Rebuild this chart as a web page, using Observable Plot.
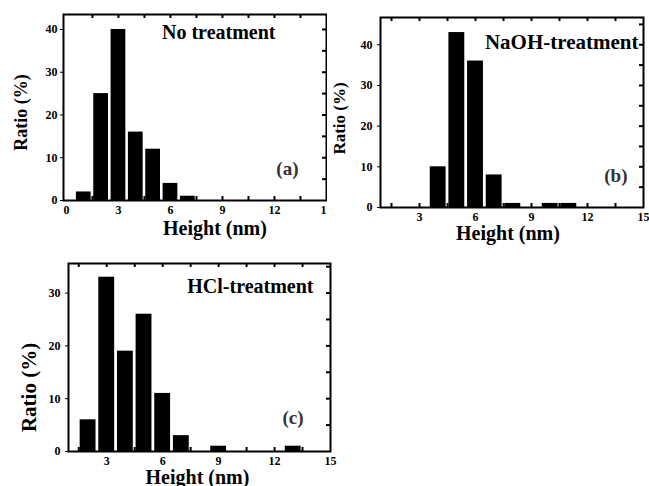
<!DOCTYPE html>
<html><head><meta charset="utf-8">
<script src="https://cdn.jsdelivr.net/npm/d3@7"></script>
<script src="https://cdn.jsdelivr.net/npm/@observablehq/plot@0.6"></script>
<style>
html,body{margin:0;padding:0;background:#fff;}
#root{position:relative;width:649px;height:486px;overflow:hidden;}
.panel{position:absolute;overflow:hidden;}
.panel svg, .panel svg text{font-family:"Liberation Serif","Times New Roman",serif !important;font-weight:bold;}
</style></head><body><div id="root"></div>
<script>
// ---- data ----
const heights = [1,2,3,4,5,6,7,8,9,10,11,12,13,14];
const ratioA = [2,25,40,16,12,4,1,0,0,0,0,0,0,0];
const ratioB = [0,0,0,10,43,36,8,1,0,1,1,0,0,0];
const ratioC = [0,6,33,19,26,11,3,0,1,0,0,0,1,0];

const xTicksA = [0,3,6,9,12,15];
const xTicksBC = [3,6,9,12,15];
const yTicksA = [0,10,20,30,40];
const yTicksB = [0,10,20,30,40];
const yTicksC = [0,10,20,30];
const xMinor = [1.5,3,4.5,6,7.5,9,10.5,12,13.5];
const yMinorA = [5,10,15,20,25,30,35,40];
const yMinorB = [5,10,15,20,25,30,35,40,45];
const yMinorC = [5,10,15,20,25,30,35];

const titles = ["No treatment","NaOH-treatment","HCl-treatment"];
const panelTags = ["(a)","(b)","(c)"];
const xLabel = "Height (nm)";
const yLabel = "Ratio (%)";

const FONT = '"Liberation Serif","Times New Roman",serif';
const root = document.getElementById("root");

function panel(cfg){
  const rows = heights.map((h,i)=>({h, r: cfg.ratio[i]}));
  const [x0,x1] = cfg.xDomain, [y0,y1] = cfg.yDomain;
  const fw = cfg.width - cfg.ml - cfg.mr, fh = cfg.height - cfg.mt - cfg.mb;
  const tx = 4*(x1-x0)/fw, ty = 4*(y1-y0)/fh;
  const bw = 0.85;
  const chart = Plot.plot({
    width: cfg.width, height: cfg.height,
    marginLeft: cfg.ml, marginRight: cfg.mr, marginTop: cfg.mt, marginBottom: cfg.mb,
    style: {fontFamily: FONT, fontSize: "12px", fontWeight: "bold", color: "black", background: "transparent", overflow: "hidden"},
    x: {domain: cfg.xDomain, ticks: cfg.xTicks, tickSize: 0, tickPadding: cfg.xPad, label: null},
    y: {domain: cfg.yDomain, ticks: cfg.yTicks, tickSize: 3, tickPadding: cfg.yPad, label: null},
    marks: [
      Plot.rectY(rows, {x1: d=>d.h-bw/2, x2: d=>d.h+bw/2, y1: 0, y2: "r", fill: "black"}),
      Plot.ruleX(xMinor, {y1: y0, y2: y0+ty, stroke: "black", strokeWidth: 2}),
      Plot.ruleX(xMinor, {y1: y1-ty, y2: y1, stroke: "black", strokeWidth: 2}),
      Plot.ruleY(cfg.yMinor, {x1: x1-tx, x2: x1, stroke: "black", strokeWidth: 2}),
      Plot.frame({stroke: "black", strokeWidth: 2}),
      Plot.text([yLabel], {frameAnchor: "left", textAnchor: "middle", lineAnchor: "middle", rotate: -90, dx: cfg.yl.dx, dy: cfg.yl.dy, fontSize: cfg.yl.fs, fontWeight: "bold", fill: "black"}),
      Plot.text([xLabel], {frameAnchor: "bottom", textAnchor: "middle", lineAnchor: "middle", dx: cfg.xl.dx, dy: cfg.xl.dy, fontSize: cfg.xl.fs, fontWeight: "bold", fill: "black"}),
      Plot.text([cfg.title], {frameAnchor: "top-right", textAnchor: "end", lineAnchor: "middle", dx: cfg.ti.dx, dy: cfg.ti.dy, fontSize: cfg.ti.fs, fontWeight: "bold", fill: "black"}),
      Plot.text([cfg.tag], {frameAnchor: "bottom-right", textAnchor: "end", lineAnchor: "middle", dx: cfg.tg.dx, dy: cfg.tg.dy, fontSize: cfg.tg.fs, fontWeight: "bold", fill: "#333"})
    ]
  });
  const wrap = document.createElement("div");
  wrap.className = "panel";
  wrap.style.left = cfg.left + "px";
  wrap.style.top = cfg.top + "px";
  wrap.style.width = cfg.width + "px";
  wrap.style.height = cfg.height + "px";
  wrap.appendChild(chart);
  root.appendChild(wrap);
}

panel({left:0, top:0, width:327, height:240, ml:63, mr:1, mt:14, mb:40,
  xDomain:[-0.17,15], yDomain:[0,43.5], xTicks:xTicksA, yTicks:yTicksA, yMinor:yMinorA, ratio:ratioA,
  xPad:5, yPad:3, title:titles[0], tag:panelTags[0],
  yl:{dx:-42, dy:5, fs:18}, xl:{dx:20, dy:28, fs:20}, ti:{dx:-51, dy:18, fs:20}, tg:{dx:-28, dy:-32, fs:19}});

panel({left:330, top:0, width:319, height:245, ml:50, mr:6, mt:17, mb:38,
  xDomain:[0.91,15], yDomain:[0,46.7], xTicks:xTicksBC, yTicks:yTicksB, yMinor:yMinorB, ratio:ratioB,
  xPad:5, yPad:5, title:titles[1], tag:panelTags[1],
  yl:{dx:-41, dy:6, fs:17}, xl:{dx:-4, dy:26, fs:20}, ti:{dx:-5, dy:25, fs:21}, tg:{dx:-16, dy:-32, fs:19}});

panel({left:0, top:245, width:340, height:241, ml:68, mr:10, mt:18, mb:35,
  xDomain:[0.95,15], yDomain:[0,35.6], xTicks:xTicksBC, yTicks:yTicksC, yMinor:yMinorC, ratio:ratioC,
  xPad:5, yPad:5, title:titles[2], tag:panelTags[2],
  yl:{dx:-39, dy:30, fs:21}, xl:{dx:-2, dy:26, fs:20}, ti:{dx:-17, dy:23, fs:20}, tg:{dx:-27, dy:-34, fs:19}});
</script></body></html>
